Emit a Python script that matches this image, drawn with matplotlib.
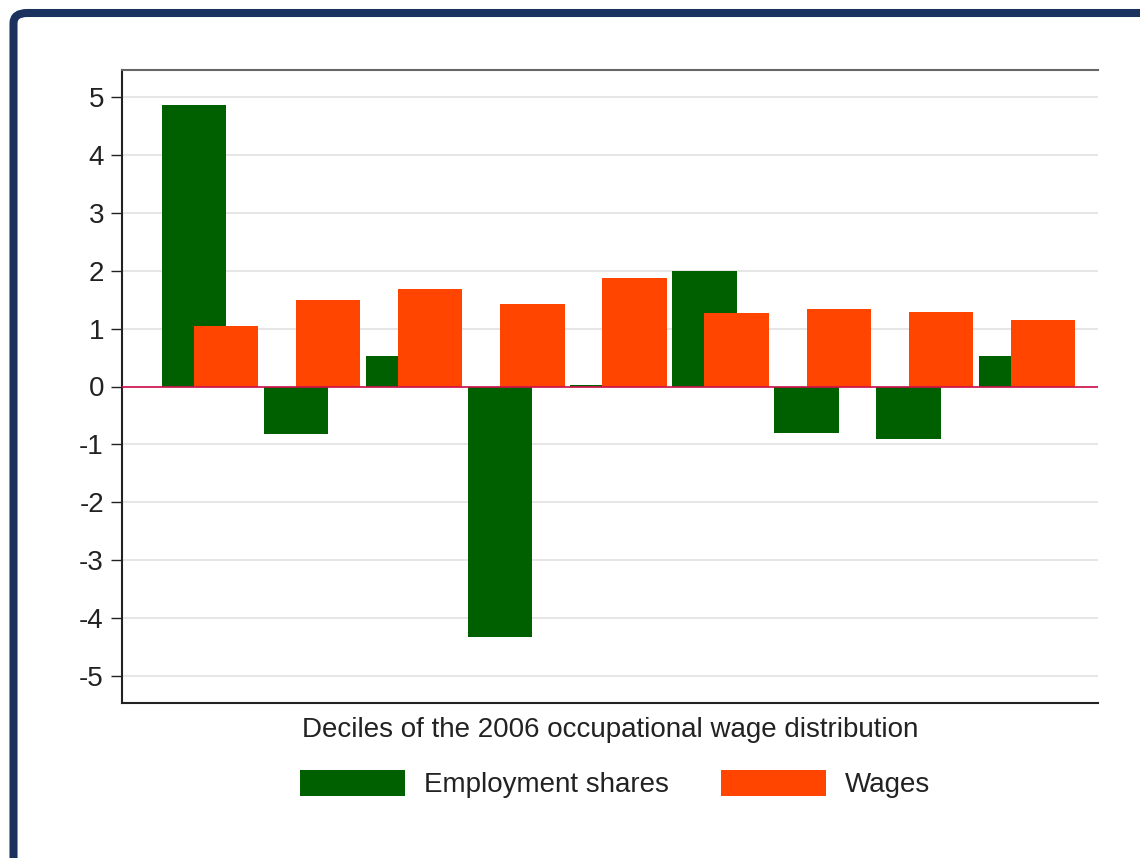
import matplotlib
matplotlib.use("Agg")
import matplotlib.pyplot as plt
from matplotlib.patches import FancyBboxPatch
import numpy as np

# Change by decile of the 2006 occupational wage distribution
deciles = [1, 2, 3, 4, 5, 6, 7, 8, 9]
employment_shares = [4.85, -0.82, 0.52, -4.33, 0.03, 2.00, -0.80, -0.91, 0.53]
wages = [1.04, 1.50, 1.68, 1.42, 1.88, 1.26, 1.34, 1.29, 1.14]
yticks = [-5, -4, -3, -2, -1, 0, 1, 2, 3, 4, 5]

GREEN = "#006000"
ORANGE = "#ff4500"
NAVY = "#1b325f"
FS = 20

plt.rcParams["font.family"] = ["Liberation Sans", "DejaVu Sans"]
plt.rcParams["axes.unicode_minus"] = False

fig = plt.figure(figsize=(11.4, 8.58), dpi=100)
fig.patch.set_facecolor("white")

# navy frame around the figure (runs off the right and bottom edges)
frame = FancyBboxPatch((13.5 / 1140, -0.1), 1.2, 1 - 13 / 858 + 0.1,
                       boxstyle="round,pad=0,rounding_size=0.012",
                       transform=fig.transFigure, facecolor="none",
                       edgecolor=NAVY, linewidth=5.8, zorder=0)
fig.patches.append(frame)

ax = fig.add_axes([122 / 1140, 1 - 703 / 858, (1098 - 122) / 1140, (703 - 70) / 858])

x = np.array(deciles, dtype=float)
w = 0.63
ax.bar(x - w / 4, employment_shares, width=w, color=GREEN, zorder=2,
       label="Employment shares")
ax.bar(x + w / 4, wages, width=w, color=ORANGE, zorder=3, label="Wages")
ax.axhline(0, color="#d0104a", linewidth=1.2, zorder=4)

ax.set_xlim(0.138, 9.697)
ax.set_ylim(-5.46, 5.46)
ax.set_yticks(yticks)
ax.set_yticklabels([str(t) for t in yticks])
ax.set_xticks([])
ax.yaxis.grid(True, color="#e2e2e2", linewidth=1.2, zorder=0)
ax.set_axisbelow(True)
ax.tick_params(axis="y", length=8, width=1, labelsize=FS, pad=5, colors="#222222")

ax.spines["right"].set_visible(False)
ax.spines["left"].set_color("#222222")
ax.spines["bottom"].set_color("#222222")
ax.spines["top"].set_color("#666666")
for s in ["left", "bottom", "top"]:
    ax.spines[s].set_linewidth(1.5)

ax.set_xlabel("Deciles of the 2006 occupational wage distribution",
              fontsize=FS, color="#222222", labelpad=10)

ax.legend(loc="center", bbox_to_anchor=(615 / 1140, 1 - 784 / 858),
          bbox_transform=fig.transFigure, ncol=2, frameon=False, fontsize=FS,
          handlelength=3.78, handleheight=1.1, handletextpad=0.68,
          columnspacing=1.87, labelcolor="#222222")

fig.savefig("out.png", dpi=100, facecolor="white")
